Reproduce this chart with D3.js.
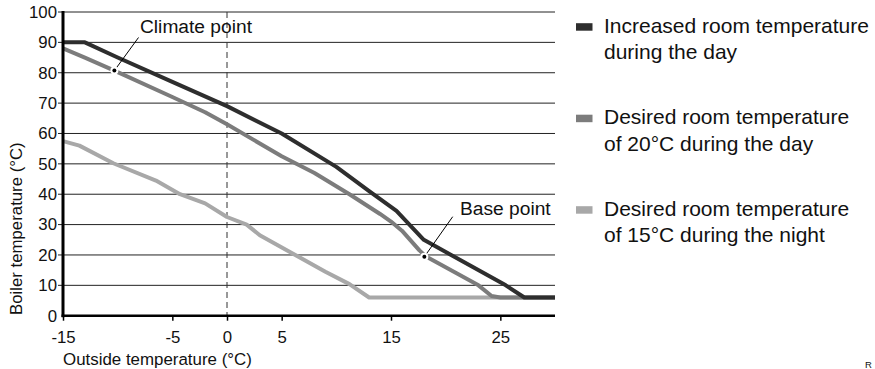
<!DOCTYPE html>
<html>
<head>
<meta charset="utf-8">
<script src="https://cdn.jsdelivr.net/npm/d3@7"></script>
<style>
  html, body { margin: 0; padding: 0; background: #fff; }
  svg { display: block; font-family: "Liberation Sans", Arial, Helvetica, sans-serif; }
</style>
</head>
<body>
<svg id="chart" width="875" height="369"></svg>
<script>
// ---- data ----
const xTickValues = [-15, -5, 0, 5, 15, 25];
const yTickValues = [0, 10, 20, 30, 40, 50, 60, 70, 80, 90, 100];

const increasedOutside = [-15, -13, -10, -5, 0, 5, 10, 13, 15.5, 18, 20.5, 25.5, 27.2, 30];
const increasedBoiler  = [90, 90, 85, 77, 69, 60, 49, 41, 34.5, 25, 20, 10, 6, 6];

const day20Outside = [-15, -13, -10.3, -5, -2, 0, 5, 8, 11.2, 14, 15, 16, 17.6, 18.2, 21, 23, 24.2, 25, 30];
const day20Boiler  = [88, 85, 80.7, 72, 67, 63, 52.5, 47, 40, 33.5, 31, 28, 21.5, 19.5, 14, 10, 6.5, 6, 6];

const night15Outside = [-15, -13.5, -10.4, -6.5, -4.3, -2, 0, 1.8, 3, 6, 9, 11.2, 13, 30];
const night15Boiler  = [57.5, 56, 50.2, 44.5, 40, 37, 32.5, 30, 26.5, 20.5, 14.5, 10.4, 6, 6];

const seriesNames = [
  ["Increased room temperature", "during the day"],
  ["Desired room temperature", "of 20°C during the day"],
  ["Desired room temperature", "of 15°C during the night"]
];
const seriesColors = ["#2e2e2e", "#7c7c7c", "#a8a8a8"];

const climatePoint = [-10.3, 80.7];
const basePoint = [18.05, 19.4];

// ---- chart ----
const svg = d3.select("#chart");
const x = d3.scaleLinear().domain([-15, 30]).range([63, 555]);
const y = d3.scaleLinear().domain([0, 100]).range([315.7, 12]);

// gridlines
svg.append("g").selectAll("line").data(yTickValues.filter(d => d > 0)).join("line")
  .attr("x1", 58).attr("x2", x(30))
  .attr("y1", d => y(d)).attr("y2", d => y(d))
  .attr("stroke", "#222").attr("stroke-width", 1);

// dashed line at 0
svg.append("line")
  .attr("x1", x(0)).attr("x2", x(0)).attr("y1", y(100)).attr("y2", y(0))
  .attr("stroke", "#333").attr("stroke-width", 1).attr("stroke-dasharray", "6,4");

// axes
const xAxis = d3.axisBottom(x).tickValues(xTickValues).tickSize(5).tickPadding(10.3).tickFormat(d => String(d));
const gx = svg.append("g").attr("transform", `translate(0,${y(0)})`).call(xAxis);
gx.select(".domain").remove();
gx.selectAll(".tick line").attr("stroke", "#000").attr("stroke-width", 1.5);
gx.selectAll(".tick text").attr("font-size", "16.8px").attr("fill", "#111")
  .attr("font-family", "Liberation Sans, Arial, sans-serif");

const yAxis = d3.axisLeft(y).tickValues(yTickValues).tickSize(0).tickPadding(6).tickFormat(d => String(d));
const gy = svg.append("g").attr("transform", `translate(${x(-15)},0)`).call(yAxis);
gy.select(".domain").remove();
gy.selectAll(".tick text").attr("font-size", "16.8px").attr("fill", "#111")
  .attr("font-family", "Liberation Sans, Arial, sans-serif");

// series
const line = d3.line().x(d => x(d[0])).y(d => y(d[1]));
const seriesData = [
  d3.zip(increasedOutside, increasedBoiler),
  d3.zip(day20Outside, day20Boiler),
  d3.zip(night15Outside, night15Boiler)
];
[2, 1, 0].forEach(i => {
  svg.append("path").datum(seriesData[i])
    .attr("d", line).attr("fill", "none")
    .attr("stroke", seriesColors[i]).attr("stroke-width", 4)
    .attr("stroke-linejoin", "round");
});

// axis lines
svg.append("line").attr("x1", x(-15)).attr("x2", x(-15)).attr("y1", y(100) - 1).attr("y2", y(0) + 1.5)
  .attr("stroke", "#000").attr("stroke-width", 3);
svg.append("line").attr("x1", x(-15) - 1.5).attr("x2", x(30)).attr("y1", y(0)).attr("y2", y(0))
  .attr("stroke", "#000").attr("stroke-width", 2.5);

// annotations
function annotate(pt, tx, ty, label, lx, ly) {
  svg.append("line").attr("x1", x(pt[0])).attr("y1", y(pt[1])).attr("x2", lx).attr("y2", ly)
    .attr("stroke", "#000").attr("stroke-width", 1);
  svg.append("circle").attr("cx", x(pt[0])).attr("cy", y(pt[1])).attr("r", 4).attr("fill", "#fff");
  svg.append("circle").attr("cx", x(pt[0])).attr("cy", y(pt[1])).attr("r", 2).attr("fill", "#000");
  svg.append("text").attr("x", tx).attr("y", ty).attr("font-size", "19.2px").attr("fill", "#111").text(label);
}
annotate(climatePoint, 140, 33.3, "Climate point", 138.5, 37.5);
annotate(basePoint, 460, 215, "Base point", 452.7, 216.7);

// axis titles
svg.append("text").attr("x", 63).attr("y", 364.5).attr("font-size", "16.9px").attr("fill", "#111")
  .text("Outside temperature (°C)");
svg.append("text").attr("transform", "translate(21.5,315) rotate(-90)")
  .attr("font-size", "16.8px").attr("fill", "#111")
  .text("Boiler temperature (°C)");

// legend
const legendTop = [32.7, 124.2, 215.7];
seriesNames.forEach((lines, i) => {
  const b = legendTop[i];
  svg.append("rect").attr("x", 576).attr("y", b - 9.5).attr("width", 16.5).attr("height", 7.5)
    .attr("fill", seriesColors[i]);
  lines.forEach((t, j) => {
    svg.append("text").attr("x", 604).attr("y", b + j * 26.5)
      .attr("font-size", "21px").attr("fill", "#111").text(t);
  });
});

svg.append("text").attr("x", 865).attr("y", 368).attr("font-size", "9.5px").attr("fill", "#111").text("R");
</script>
</body>
</html>
